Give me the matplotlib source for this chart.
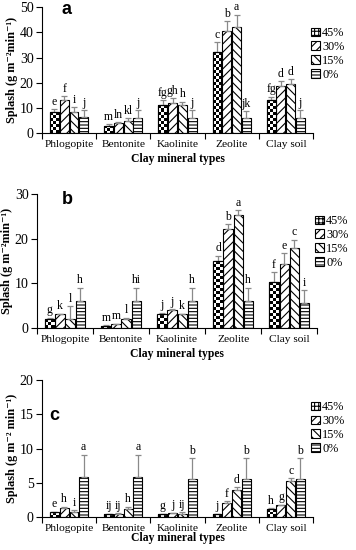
import numpy as np
import matplotlib
matplotlib.use("Agg")
import matplotlib.pyplot as plt
from matplotlib.patches import Patch

plt.rcParams['font.family'] = ['Liberation Serif', 'DejaVu Serif']
plt.rcParams['hatch.linewidth'] = 0.8

minerals = ["Phlogopite", "Bentonite", "Kaolinite", "Zeolite", "Clay soil"]
levels = ["45%", "30%", "15%", "0%"]

# panel a  (rows = levels 45,30,15,0 ; cols = minerals)
a_vals = [[8.5, 3.0, 11.0, 32.0, 13.0],
          [13.2, 4.0, 12.0, 40.5, 18.7],
          [8.3, 4.8, 11.0, 42.0, 19.5],
          [6.2, 6.0, 6.0, 5.8, 6.0]]
a_err = [[1.0, 0.5, 2.0, 4.0, 1.5],
         [1.5, 0.3, 2.0, 4.0, 2.0],
         [2.0, 1.0, 1.5, 5.0, 2.0],
         [3.0, 3.0, 3.0, 3.0, 3.0]]
a_let = [["e", "m", "fg", "c", "fg"],
         ["f", "ln", "gh", "b", "d"],
         ["i", "kl", "h", "a", "d"],
         ["j", "j", "j", "jk", "j"]]

# panel b
b_vals = [[2.0, 0.5, 3.0, 15.0, 10.2],
          [3.0, 0.8, 4.1, 22.2, 14.3],
          [2.0, 2.0, 3.0, 25.4, 18.0],
          [6.0, 6.0, 6.0, 6.0, 5.5]]
b_err = [[0.3, 0.1, 0.4, 1.2, 2.3],
         [0.2, 0.1, 0.1, 1.0, 2.5],
         [2.8, 0.3, 0.2, 1.0, 1.8],
         [3.0, 3.0, 3.0, 3.0, 3.0]]
b_let = [["g", "m", "j", "d", "f"],
         ["k", "m", "j", "b", "e"],
         ["l", "l", "k", "a", "c"],
         ["h", "hi", "h", "h", "i"]]

# panel c
c_vals = [[0.7, 0.4, 0.4, 0.4, 1.2],
          [1.3, 0.5, 0.6, 2.0, 1.7],
          [0.7, 1.2, 0.5, 4.0, 5.2],
          [5.9, 5.9, 5.6, 5.6, 5.6]]
c_err = [[0.1, 0.1, 0.1, 0.1, 0.1],
         [0.2, 0.1, 0.05, 0.3, 0.1],
         [0.3, 0.3, 0.2, 0.4, 0.5],
         [3.2, 3.2, 3.0, 3.0, 3.0]]
c_let = [["e", "ij", "g", "j", "h"],
         ["h", "ij", "j", "f", "g"],
         ["i", "h", "ij", "d", "c"],
         ["a", "a", "b", "b", "b"]]

hatches = [None, "////", "\\\\\\\\", "-----"]

fig = plt.figure(figsize=(3.56, 5.5), dpi=100)


def checker_fill(ax, bar):
    # black/white checkerboard inside a bar, cells about 3 px
    x0, w, h = bar.get_x(), bar.get_width(), bar.get_height()
    bb = ax.get_window_extent()
    xr = ax.get_xlim()
    yr = ax.get_ylim()
    wpx = w / (xr[1] - xr[0]) * bb.width
    hpx = h / (yr[1] - yr[0]) * bb.height
    nc = max(2, int(round(wpx / 3.0)))
    nr = max(1, int(round(hpx / 3.0)))
    xe = np.linspace(x0, x0 + w, nc + 1)
    ye = np.linspace(0, h, nr + 1)
    grid = (np.add.outer(np.arange(nr), np.arange(nc)) % 2).astype(float)
    ax.pcolormesh(xe, ye, grid, cmap="gray", vmin=0, vmax=1, zorder=2,
                  shading="flat", edgecolors="none")


def panel(rect, vals, errs, lets, ymax, ystep, tag, tagpos, ylab, xpad):
    ax = fig.add_axes(rect)
    x = np.arange(len(minerals))
    w = 0.165
    ax.set_xlim(-0.5, len(minerals) - 0.5)
    ax.set_ylim(0, ymax)
    for i in range(4):
        pos = x + (i - 1.5) * 0.18
        bars = ax.bar(pos, vals[i], w, color="white", edgecolor="black",
                      hatch=hatches[i], linewidth=0.8, zorder=1)
        ax.errorbar(pos, vals[i], yerr=[np.zeros(len(x)), errs[i]], fmt="none",
                    ecolor="#8a8a8a", elinewidth=0.9, capsize=2, capthick=0.9, zorder=3)
        if i == 0:
            for b in bars:
                checker_fill(ax, b)
            ax.bar(pos, vals[i], w, fill=False, edgecolor="black", linewidth=0.8, zorder=4)
        for p, v, e, t in zip(pos, vals[i], errs[i], lets[i]):
            ax.text(p, v + e + ymax * 0.01, t, ha="center", va="bottom", fontsize=8.5)
    ax.set_xlim(-0.5, len(minerals) - 0.5)
    ax.set_ylim(0, ymax)
    ax.set_yticks(np.arange(0, ymax + 0.1, ystep))
    ax.set_xticks(np.arange(-0.5, len(minerals), 1.0))
    ax.set_xticklabels([])
    ax.set_xticks(x, minor=True)
    ax.set_xticklabels(minerals, minor=True, fontsize=8.2)
    ax.tick_params(axis="x", which="minor", length=0, pad=5)
    ax.tick_params(axis="x", which="major", length=4, direction="out")
    ax.tick_params(axis="y", length=4, direction="out", labelsize=10, pad=2)
    for s in ["top", "right"]:
        ax.spines[s].set_visible(False)
    ax.set_xlabel("Clay mineral types", fontsize=8.4, fontweight="bold", labelpad=xpad)
    ax.set_ylabel(ylab, fontsize=8.8, fontweight="bold", labelpad=1)
    fig.text(tagpos[0], tagpos[1], tag, fontsize=13, fontweight="bold",
             family=["Liberation Sans", "DejaVu Sans"], ha="center", va="center")
    handles = [Patch(facecolor="white", edgecolor="black", hatch=h if h else "++++",
                     linewidth=0.8) for h in hatches]
    ax.legend(handles, levels, loc="upper left", bbox_to_anchor=(0.975, 0.88),
              frameon=False, fontsize=8.8, handlelength=0.7, handleheight=0.7,
              handletextpad=0.2, labelspacing=0.15, borderaxespad=0)
    return ax


panel([0.118, 0.758, 0.761, 0.229], a_vals, a_err, a_let, 50, 10, "a",
      (67 / 356, 1 - 9 / 550), "Splash (g m\u207b\u00b2min\u207b\u00b9)", 3)
panel([0.104, 0.404, 0.787, 0.243], b_vals, b_err, b_let, 30, 10, "b",
      (67 / 356, 1 - 199 / 550), "Splash (g m\u207b\u00b2min\u207b\u00b9)", 3)
panel([0.118, 0.060, 0.761, 0.249], c_vals, c_err, c_let, 20, 5, "c",
      (54 / 356, 1 - 415 / 550), "Splash (g m\u207b\u00b2 min\u207b\u00b9)", -1)

fig.savefig("out.png", dpi=100)
